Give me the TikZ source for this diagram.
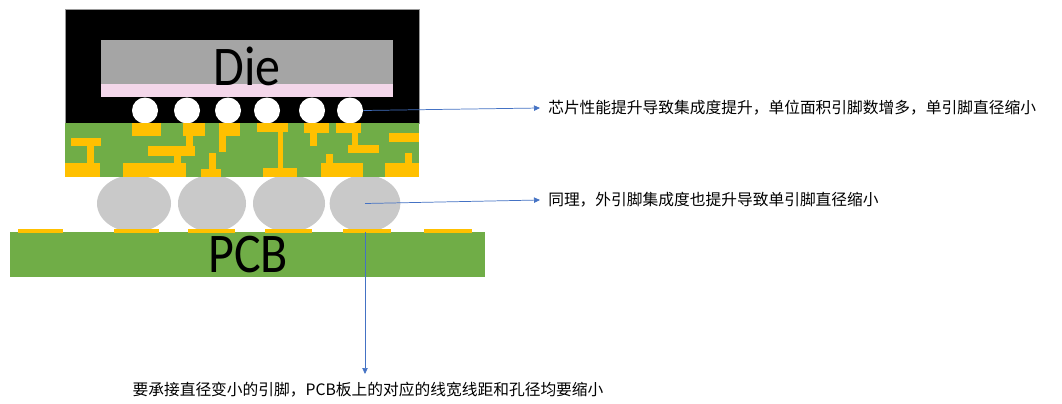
\documentclass[tikz,border=0pt]{standalone}
\usepackage{fontspec}
\setmainfont{Carlito}
\newfontfamily\cjk{Noto Sans CJK SC}
\usetikzlibrary{shapes.geometric,arrows.meta}
\definecolor{board}{HTML}{70AD47}
\definecolor{gold}{HTML}{FFC000}
\definecolor{diefill}{HTML}{A5A5A5}
\definecolor{bondlayer}{HTML}{F4D7EA}
\definecolor{leadblue}{HTML}{4472C4}

\begin{document}
\begin{tikzpicture}[
  x=0.75pt,y=-0.75pt,
  bump/.style={circle,fill=white,minimum size=19.5pt,inner sep=0pt},
  ball/.style={ellipse,fill=black!21,inner sep=0pt,minimum height=42.75pt},
  pad/.style={fill=gold},
  note/.style={anchor=west,font=\cjk\fontsize{11.8pt}{14pt}\selectfont,inner sep=0pt},
  lead/.style={draw=leadblue,line width=0.55pt,-{Triangle[length=4.5pt,width=4pt]}},
  big/.style={font=\fontsize{37.5pt}{40pt}\selectfont,inner sep=0pt}
]
  \useasboundingbox[fill=white] (0,0) rectangle (1062,403);

  \node[ball,minimum width=55.5pt] (ball1) at (134,203.5) {};
  \node[ball,minimum width=51pt]   (ball2) at (212,203.5) {};
  \node[ball,minimum width=54pt]   (ball3) at (289,203.5) {};
  \node[ball,minimum width=53pt]   (ball4) at (365,203.5) {};

  \fill[black,draw=black!40,line width=0.3pt] (65,9) rectangle (419,123);
  \fill[diefill] (101,40) rectangle (393,84);
  \fill[bondlayer] (101,84) rectangle (393,97);
  \node[big] (die) at (247,66) {\scalebox{1}[1.12]{Die}};

  \foreach \i/\x in {1/145,2/187,3/228,4/267,5/312,6/350}
    \node[bump] (bump\i) at (\x,110.5) {};

  \fill[board] (65,123) rectangle (419,177);
  \foreach \a/\b/\c/\d in {132/123/161/136,183/123/205/136,186/136/193/147,
      148/146/195/156,174/156/181/163,123/163/186/177,71/138/101/146,
      87/146/94/163,65/163/100/177,219/123/240/136,219/136/226/152,
      209/153/216/169,201/169/221/177,257/123/288/132,278/132/283/168,
      263/168/297/177,304/123/329/133,310/133/317/146,336/123/361/133,
      352/133/358/145,348/145/379/153,389/133/419/142,326/154/333/163,
      321/163/363/177,405/153/412/163,385/163/419/177}
    \fill[pad] (\a,\b) rectangle (\c,\d);

  \fill[board] (10,232) rectangle (485,277);
  \foreach \a/\c in {18/63,114/159,188/235,265/312,343/391,424/472}
    \fill[pad] (\a,229) rectangle (\c,232.5);
  \node[big] (pcb) at (248,255) {\scalebox{1}[1.12]{PCB}};

  \node[note] (t1) at (548,108) {芯片性能提升导致集成度提升，单位面积引脚数增多，单引脚直径缩小};
  \node[note] (t2) at (548,200) {同理，外引脚集成度也提升导致单引脚直径缩小};
  \node[note,anchor=north] (t3) at (368,382) {要承接直径变小的引脚，PCB板上的对应的线宽线距和孔径均要缩小};

  \draw[lead] (bump6.east) -- (t1.west -| 540,0);
  \draw[lead] (ball4.center) -- (t2.west -| 540,0);
  \draw[lead] (ball4.south) -- (ball4.south |- 0,374);
\end{tikzpicture}
\end{document}
